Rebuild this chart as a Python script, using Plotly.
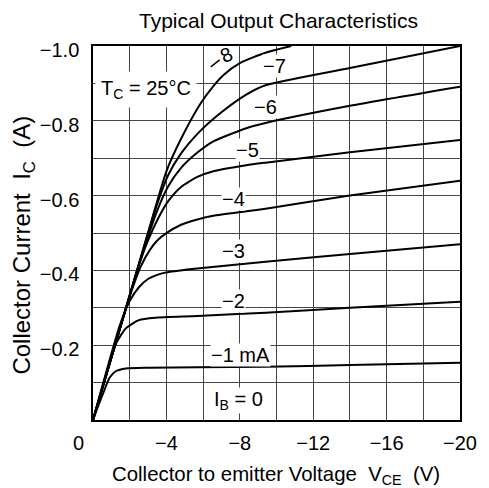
import plotly.graph_objects as go

# ---- data (values as plotted: negative V_CE and I_C) ----
v_ib1 = [0, -0.3, -0.55, -0.9, -1.26, -1.79, -3.0, -5.7, -9.4, -14, -20]
i_ib1 = [0, -0.04, -0.071, -0.113, -0.131, -0.138, -0.140, -0.141, -0.1425, -0.147, -0.153]

v_ib2 = [0, -0.73, -1.26, -1.79, -2.5, -3.39, -5.69, -9.4, -14, -20]
i_ib2 = [0, -0.125, -0.205, -0.245, -0.267, -0.2735, -0.278, -0.287, -0.300, -0.316]

v_ib3 = [0, -1.44, -2.0, -2.5, -3.0, -3.5, -3.92, -5.4, -9.4, -14, -20]
i_ib3 = [0, -0.25, -0.318, -0.355, -0.377, -0.388, -0.394, -0.404, -0.423, -0.444, -0.47]

v_ib4 = [0, -1.5, -2.0, -2.6, -3.1, -3.5, -3.92, -4.8, -5.69, -6.56, -8.35, -9.4, -14, -20]
i_ib4 = [0, -0.25, -0.33, -0.41, -0.455, -0.48, -0.497, -0.522, -0.536, -0.546, -0.558, -0.565, -0.60, -0.64]

v_ib5 = [0, -1.5, -2.5, -3.0, -3.56, -4.1, -4.8, -5.69, -6.56, -8.35, -9.4, -14, -20]
i_ib5 = [0, -0.25, -0.413, -0.48, -0.54, -0.585, -0.623, -0.65, -0.665, -0.681, -0.688, -0.716, -0.749]

v_ib6 = [0, -1.5, -2.5, -3.5, -4.1, -4.8, -5.69, -6.56, -8.35, -9.4, -14, -20]
i_ib6 = [0, -0.25, -0.415, -0.56, -0.625, -0.674, -0.715, -0.745, -0.78, -0.794, -0.84, -0.891]

v_ib7 = [0, -1.5, -2.5, -3.5, -4.1, -4.8, -5.69, -6.93, -8.35, -9.4, -14, -20]
i_ib7 = [0, -0.25, -0.416, -0.578, -0.655, -0.713, -0.765, -0.82, -0.87, -0.895, -0.941, -1.0]

v_ib8 = [0, -1.5, -2.5, -3.2, -4.0, -4.8, -5.87, -6.56, -7.1, -8.0, -9.4, -10.8]
i_ib8 = [0, -0.25, -0.418, -0.535, -0.665, -0.752, -0.847, -0.893, -0.922, -0.954, -0.982, -1.0]

x_tickvals = [0, -2, -4, -6, -8, -10, -12, -14, -16, -18, -20]
x_ticktext = ["", "", "−4", "", "−8", "", "−12", "", "−16", "", "−20"]
y_tickvals = [0, -0.1, -0.2, -0.3, -0.4, -0.5, -0.6, -0.7, -0.8, -0.9, -1.0]
y_ticktext = ["", "", "−0.2", "", "−0.4", "", "−0.6", "", "−0.8", "", "−1.0"]

label_text = ["−7", "−6", "−5", "−4", "−3", "−2", "−1 mA", "I<sub>B</sub> = 0"]
label_v = [-9.87, -9.41, -8.43, -7.63, -7.63, -7.63, -8.03, -7.95]
label_i = [-0.947, -0.838, -0.722, -0.591, -0.452, -0.317, -0.175, -0.052]

FONT = "Liberation Sans, Arial, sans-serif"

fig = go.Figure()
curves = [(v_ib1, i_ib1), (v_ib2, i_ib2), (v_ib3, i_ib3), (v_ib4, i_ib4),
          (v_ib5, i_ib5), (v_ib6, i_ib6), (v_ib7, i_ib7), (v_ib8, i_ib8)]
for v, i in curves:
    fig.add_trace(go.Scatter(x=v, y=i, mode="lines", showlegend=False,
                             line=dict(color="black", width=2, shape="spline", smoothing=0.6),
                             hoverinfo="skip"))

annotations = []
for t, v, i in zip(label_text, label_v, label_i):
    annotations.append(dict(x=v, y=i, xref="x", yref="y", text=t, showarrow=False,
                            font=dict(size=20, color="black", family=FONT),
                            bgcolor="white", borderpad=0, xanchor="center", yanchor="middle"))
# -8 label: slanted leader as minus sign plus the digit
annotations.append(dict(x=-7.25, y=-0.975, xref="x", yref="y", text="8", showarrow=False,
                        textangle=-25, font=dict(size=20, color="black", family=FONT),
                        xanchor="center", yanchor="middle"))
shapes = [dict(type="line", xref="x", yref="y", x0=-6.42, y0=-0.944, x1=-6.9, y1=-0.963,
               line=dict(color="black", width=1.5))]
# Tc label
annotations.append(dict(x=-2.91, y=-0.884, xref="x", yref="y", text="T<sub>C</sub> = 25°C",
                        showarrow=False, font=dict(size=20, color="black", family=FONT),
                        bgcolor="white", borderpad=5, xanchor="center", yanchor="middle"))
# 0 at the corner
annotations.append(dict(x=-0.04, y=-0.061, xref="paper", yref="paper", text="0", showarrow=False,
                        font=dict(size=20, color="black", family=FONT),
                        xanchor="center", yanchor="middle"))
# title
annotations.append(dict(x=0.505, y=1.067, xref="paper", yref="paper",
                        text="Typical Output Characteristics", showarrow=False,
                        font=dict(size=21, color="black", family=FONT),
                        xanchor="center", yanchor="middle"))
# x title
annotations.append(dict(x=0.499, y=-0.148, xref="paper", yref="paper",
                        text="Collector to emitter Voltage  V<sub>CE</sub>  (V)", showarrow=False,
                        font=dict(size=20.4, color="black", family=FONT),
                        xanchor="center", yanchor="middle"))
# y title
annotations.append(dict(x=-0.189, y=0.468, xref="paper", yref="paper",
                        text="Collector Current  I<sub>C</sub>  (A)", showarrow=False, textangle=-90,
                        font=dict(size=24, color="black", family=FONT),
                        xanchor="center", yanchor="middle"))

fig.update_layout(
    width=481, height=480,
    margin=dict(l=85, r=20, t=38, b=68),
    plot_bgcolor="white", paper_bgcolor="white",
    annotations=annotations, shapes=shapes,
    font=dict(family=FONT, size=20, color="black"),
    xaxis=dict(range=[0, -20], tickmode="array", tickvals=x_tickvals, ticktext=x_ticktext,
               showgrid=True, gridcolor="#444444", gridwidth=1, zeroline=False,
               showline=True, mirror=True, linecolor="black", linewidth=1.5,
               ticks="", ticklabelstandoff=4, tickfont=dict(size=20, family=FONT)),
    yaxis=dict(range=[0, -1.0], tickmode="array", tickvals=y_tickvals, ticktext=y_ticktext,
               showgrid=True, gridcolor="#444444", gridwidth=1, zeroline=False,
               showline=True, mirror=True, linecolor="black", linewidth=1.5,
               ticks="", ticklabelstandoff=8, ticklabelshift=-4, tickfont=dict(size=20, family=FONT)),
)

fig.write_html("out.html")
